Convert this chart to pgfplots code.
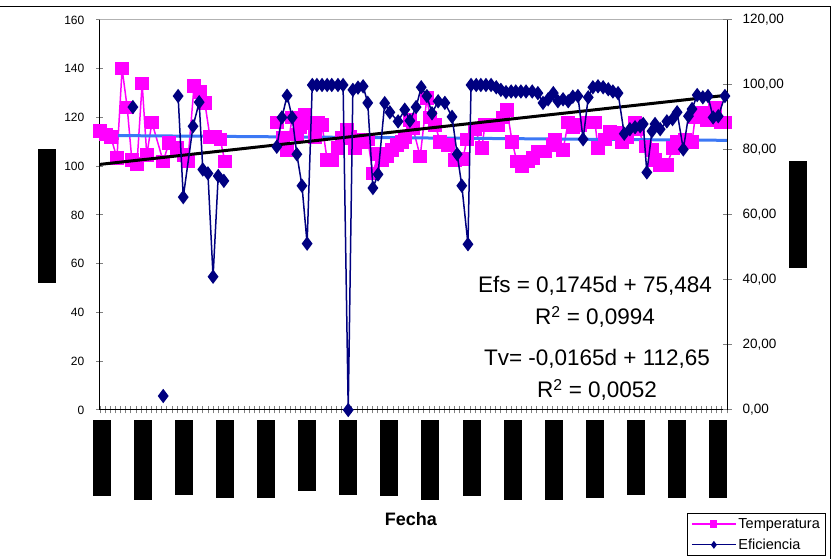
\documentclass[border=0pt]{standalone}
\usepackage{fontspec}
\setmainfont{Liberation Sans}
\usepackage{pgfplots}
\pgfplotsset{compat=1.18}
\definecolor{tempc}{RGB}{255,0,255}
\definecolor{effc}{RGB}{0,0,128}
\definecolor{trendblue}{RGB}{60,120,245}
\begin{document}
\begin{tikzpicture}
\useasboundingbox (0,0) rectangle (831pt,559pt);
\fill[white] (0,0) rectangle (831pt,559pt);
\clip (0,0) rectangle (831pt,559pt);
\draw[black, line width=1pt] (-5pt,-10pt) rectangle (830pt,552pt);
\begin{axis}[
  at={(100pt,149pt)}, anchor=south west, scale only axis,
  width=627pt, height=390pt,
  xmin=0.5, xmax=122.5, ymin=0, ymax=160,
  axis x line*=bottom, axis y line*=left,
  axis line style={line width=1pt},
  /pgf/number format/assume math mode=true,
  ytick={0,20,...,160},
  y tick label style={font=\fontsize{12}{12}\selectfont, inner sep=0pt, xshift=-12pt},
  ytick style={line width=1pt}, 
  xtick={0.5,1.5,...,122.5}, xticklabels={},
  xtick style={line width=0.8pt},
  tick align=center, major tick length=7pt,
  extra x ticks={0.8,8.8,...,120.8},
  extra x tick labels={{\rule{18pt}{76pt}},{\rule{18pt}{80pt}},{\rule{18pt}{75pt}},{\rule{18pt}{78pt}},{\rule{18pt}{78pt}},{\rule{18pt}{71pt}},{\rule{18pt}{75pt}},{\rule{18pt}{76pt}},{\rule{18pt}{80pt}},{\rule{18pt}{76pt}},{\rule{18pt}{80pt}},{\rule{18pt}{80pt}},{\rule{18pt}{78pt}},{\rule{18pt}{75pt}},{\rule{18pt}{78pt}},{\rule{18pt}{78pt}}},
  extra x tick style={major tick length=0pt, tick label style={anchor=north, inner sep=0pt, yshift=-10pt}},
  xlabel={\textbf{Fecha}},
  xlabel style={font=\fontsize{18}{18}\selectfont, at={(axis description cs:0.496,-0.2974)}, anchor=base},
  ylabel={\rule{134pt}{18pt}},
  ylabel style={at={(axis description cs:-0.0845,0.497)}, anchor=center},
  unbounded coords=jump,
  clip=false,
]
\draw[gray!60, line width=1pt] (rel axis cs:0,1) -- (rel axis cs:1,1);
\addplot[color=tempc, line width=1.5pt, mark=square*, mark size=6pt, mark options={solid}] coordinates {
(0.5,114.5)(1.7,113)(2.6,112)(3.8,103.4)(4.8,140)(5.8,124)(6.7,102.5)(7.7,101)(8.7,134)(9.6,104.6)(10.6,118)(12.8,102)(13.9,109.5)(15.5,107.5)(16.7,104.6)(17.6,102)(18.8,133)(20.0,130.5)(20.9,126)(21.9,112)(22.9,112)(23.9,111)(24.8,102)(30,nan)
(34.9,118)(36.1,111.6)(36.9,106.7)(37.9,120)(38.8,113)(39.4,116)(40.4,121)(41.8,117.7)(42.3,112)(42.9,118)(43.7,117)(44.7,102.6)(45.6,102.6)(46.8,107.5)(47.6,111.6)(48.6,115)(49.1,112)(50.1,107.5)(50.7,111)(51.7,110)(52.6,111)(53.6,97)(54.6,105)(55.4,102.6)(56.3,104)(57.3,106.7)(58.3,108.7)(59.3,110)(59.8,112)(60.8,119)(61.4,115.7)(62.8,104)(64.1,128)(64.7,120)(65.7,117)(66.7,110)(68.2,108.7)(69.6,102.6)(71.1,103)(71.9,111)(73.5,115)(74.8,107.5)(75.4,117)(76.4,117)(77.9,117)(78.9,120)(79.7,123)(80.7,110)(81.6,102)(82.6,100)(83.8,102)(84.8,103.4)(85.7,106)(87.1,106)(88.5,108.7)(89.0,111)(90.6,106.7)(91.6,118)(92.5,116)(93.9,117)(95.5,118)(96.8,118)(97.4,107.5)(98.8,111)(99.7,114)(101.1,113.6)(102.1,110)(103.1,112)(104.6,118)(105.2,115)(106.6,108)(107.9,106.7)(108.5,102.6)(109.5,100.5)(110.8,100.5)(112.0,107.5)(112.8,110)(114.3,111)(115.7,110)(116.3,120)(117.3,121)(117.8,122)(118.6,119)(120.2,124)(121.2,118)(122.1,118)
};
\addplot[color=trendblue, line width=3pt] coordinates {(0.5,112.64)(122.5,110.63)};
\end{axis}
\begin{axis}[
  at={(100pt,149pt)}, anchor=south west, scale only axis,
  width=627pt, height=390pt,
  xmin=0.5, xmax=122.5, ymin=0, ymax=120,
  axis y line*=right, axis x line=none,
  axis line style={line width=1pt},
  ytick={0,20,...,120},
  yticklabels={{0,00},{20,00},{40,00},{60,00},{80,00},{100,00},{120,00}},
  y tick label style={font=\fontsize{13.5}{13.5}\selectfont, inner sep=0pt, xshift=11pt},
  ytick style={line width=1pt},
  tick align=center, major tick length=9pt,
  ylabel={\rule{107pt}{18pt}},
  ylabel style={at={(axis description cs:1.113,0.501)}, anchor=center},
  unbounded coords=jump,
  clip=false,
  legend style={at={(axis description cs:0.936,-0.264)}, anchor=north west, draw=black, line width=0.8pt,
    font=\fontsize{14.5}{15}\selectfont, inner xsep=4pt, inner ysep=3pt, row sep=5pt, cells={anchor=west}},
  legend image code/.code={\draw[mark repeat=2, mark phase=2, #1, mark size=3pt, line width=1.2pt] plot coordinates {(0pt,0pt) (22pt,0pt) (44pt,0pt)};},
]
\addlegendimage{color=tempc, mark=square*, mark options={solid}}
\addlegendentry{Temperatura}
\addplot[color=black, line width=3pt, forget plot] coordinates {(0.5,75.57)(122.5,96.86)};
\addplot[color=effc, line width=1.5pt, mark=diamond*, mark size=6pt, mark options={solid}] coordinates {
(6.9,93.2)(9,nan)(12.8,4.3)(14,nan)(15.7,96.6)(16.7,65.5)(18.6,87.3)(19.8,94.7)(20.5,74)(21.5,72.8)(22.5,41)(23.5,72)(24.6,70.5)(30,nan)
(34.9,81)(35.9,90)(36.9,96.7)(37.9,90)(38.8,78.7)(39.8,69)(40.8,51.2)(41.8,100)(42.7,100)(43.7,100)(44.7,100)(45.6,100)(46.8,100)(47.8,100)(48.8,0)(49.7,98.5)(50.7,99.2)(51.7,99.6)(52.6,94.5)(53.6,68.3)(54.6,72.5)(55.9,94.4)(56.9,91.6)(58.5,88.8)(59.8,92.4)(60.8,89)(62.0,93.2)(63.0,99.3)(64.1,96.6)(65.1,91.3)(66.3,95)(67.6,94.5)(69.0,90.2)(70.0,78.7)(70.9,69)(72.1,51)(72.7,100)(73.7,100)(74.6,100)(75.6,100)(76.6,100)(77.6,99.3)(78.5,98.5)(79.5,97.8)(80.5,98)(81.4,98)(82.4,98)(83.4,98)(84.6,98)(85.7,97.5)(86.7,94.5)(87.7,95.6)(88.7,97.5)(89.6,95)(90.6,95.6)(91.6,95)(92.5,96.4)(93.5,96.6)(94.5,83.3)(95.5,96.2)(96.4,99.3)(97.4,99.6)(98.4,99.3)(99.4,98.7)(100.3,98)(101.3,97.5)(102.5,85)(103.6,86.4)(104.6,87)(105.6,87.3)(106.2,88)(106.9,73.1)(107.9,85.8)(108.5,88)(109.5,86.4)(110.8,88.8)(111.9,89.5)(112.8,91.6)(114.0,80.2)(115.0,90.4)(115.7,92.6)(116.7,96.9)(117.8,96.2)(118.8,96.6)(119.8,90)(120.8,90.4)(122.1,96.6)
};
\addlegendentry{Eficiencia}
\end{axis}
\node[font=\fontsize{22.5}{32}\selectfont, align=center, anchor=north] at (595pt,286pt) {Efs = 0,1745d + 75,484\\R\textsuperscript{2} = 0,0994};
\node[font=\fontsize{22.5}{32}\selectfont, align=center, anchor=north] at (597pt,213pt) {Tv= -0,0165d + 112,65\\R\textsuperscript{2} = 0,0052};
\end{tikzpicture}
\end{document}
